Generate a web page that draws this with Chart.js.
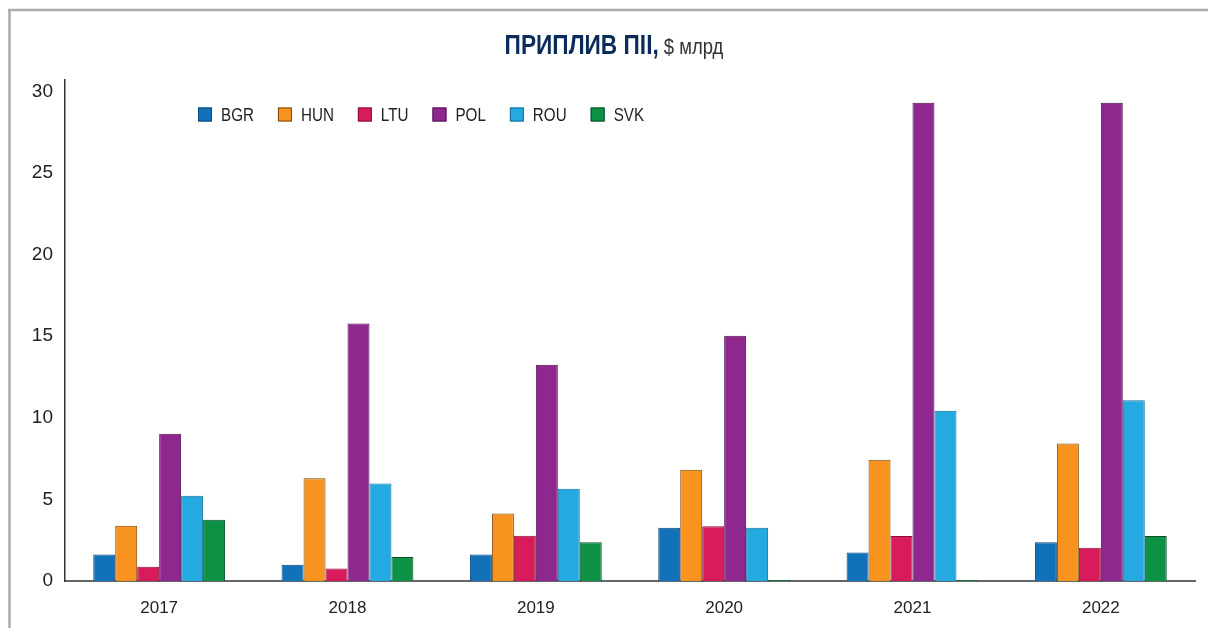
<!DOCTYPE html>
<html>
<head>
<meta charset="utf-8">
<script src="https://cdn.jsdelivr.net/npm/chart.js@4"></script>
<style>
    html, body { margin: 0; padding: 0; background: #fff; }
    #wrap { width: 1208px; height: 628px; position: relative; }
</style>
</head>
<body>
<div id="wrap"><canvas id="fdi_chart"></canvas></div>
<script>
// data, $ bn
const years = ['2017', '2018', '2019', '2020', '2021', '2022'];
const countries = ['BGR', 'HUN', 'LTU', 'POL', 'ROU', 'SVK'];
const bgr = [1.63, 1.0, 1.62, 3.27, 1.74, 2.37];
const hun = [3.39, 6.29, 4.13, 6.82, 7.43, 8.43];
const ltu = [0.88, 0.76, 2.78, 3.35, 2.76, 2.04];
const pol = [9.03, 15.78, 13.25, 15.03, 29.3, 29.3];
const rou = [5.23, 5.98, 5.66, 3.27, 10.43, 11.08];
const svk = [3.76, 1.47, 2.37, 0.06, 0.06, 2.76];
const yTicks = [0, 5, 10, 15, 20, 25, 30];
const titleBold = 'ПРИПЛИВ ПІІ,';
const titleRest = ' $ млрд';

const fills = ['#1172b9', '#f7931e', '#d81b5a', '#8e278e', '#24a9e1', '#0d9144'];
const edges = ['#0b4a7a', '#7a4a10', '#8a1038', '#4e1250', '#176f96', '#0a4f28'];
const series = [bgr, hun, ltu, pol, rou, svk];

const FONT = '"Liberation Sans", Arial, sans-serif';

// draw text squeezed horizontally, the original uses a condensed face
const narrowText = (ctx, text, x, y, squeeze) => {
    ctx.save();
    ctx.translate(x, y);
    ctx.scale(squeeze, 1);
    ctx.fillText(text, 0, 0);
    ctx.restore();
    return ctx.measureText(text).width * squeeze;
};

// grey frame, title and the legend inside the plot
const decorPlugin = {
    id: 'decor',
    beforeDraw(chart) {
        const ctx = chart.ctx;
        ctx.save();
        ctx.strokeStyle = '#aaaaaa';
        ctx.lineWidth = 2.5;
        ctx.beginPath();
        ctx.moveTo(8, 10);
        ctx.lineTo(chart.width, 10);
        ctx.moveTo(9.5, 9);
        ctx.lineTo(9.5, chart.height);
        ctx.stroke();
        ctx.restore();
    },
    afterDraw(chart) {
        const ctx = chart.ctx;
        ctx.save();
        // title
        ctx.textBaseline = 'alphabetic';
        ctx.font = 'bold 27px ' + FONT;
        const w1 = ctx.measureText(titleBold).width * 0.84;
        ctx.font = '22px ' + FONT;
        const w2 = ctx.measureText(titleRest).width * 0.84;
        let x = 614 - (w1 + w2) / 2;
        ctx.font = 'bold 27px ' + FONT;
        ctx.fillStyle = '#0b2c5a';
        narrowText(ctx, titleBold, x, 54, 0.84);
        ctx.font = '22px ' + FONT;
        ctx.fillStyle = '#333333';
        narrowText(ctx, titleRest, x + w1, 54, 0.84);

        // legend
        ctx.font = '19px ' + FONT;
        ctx.textBaseline = 'middle';
        x = 198;
        chart.data.datasets.forEach(ds => {
            ctx.fillStyle = ds.backgroundColor;
            ctx.fillRect(x, 107.5, 14, 14);
            ctx.strokeStyle = ds.borderColor;
            ctx.lineWidth = 1;
            ctx.strokeRect(x + 0.5, 108, 13, 13);
            x += 23;
            ctx.fillStyle = '#222222';
            x += narrowText(ctx, ds.label, x, 115.5, 0.8) + 24;
        });
        ctx.restore();
    }
};

const datasets = countries.map((c, i) => ({
    label: c,
    data: series[i],
    backgroundColor: fills[i],
    borderColor: edges[i],
    borderWidth: 1,
    categoryPercentage: 0.7,
    barPercentage: 1.0
}));

new Chart(document.getElementById('fdi_chart'), {
    type: 'bar',
    data: { labels: years, datasets: datasets },
    options: {
        responsive: true,
        maintainAspectRatio: false,
        animation: false,
        layout: { padding: { top: 80, right: 13, bottom: 0, left: 0 } },
        plugins: {
            legend: { display: false },
            title: { display: false },
            tooltip: { enabled: false }
        },
        scales: {
            x: {
                grid: { display: false, drawTicks: false },
                border: { display: true, color: '#666666', width: 2 },
                afterFit: axis => { axis.height = 47; },
                ticks: {
                    color: '#222222',
                    padding: 17,
                    font: { family: FONT, size: 17 }
                }
            },
            y: {
                min: 0,
                max: 30.7,
                grid: { display: false, drawTicks: false },
                border: { display: true, color: '#333333', width: 1.5 },
                afterBuildTicks: axis => {
                    axis.ticks = yTicks.map(v => ({ value: v }));
                },
                afterFit: axis => { axis.width = 65; },
                ticks: {
                    color: '#222222',
                    padding: 12,
                    font: { family: FONT, size: 19 }
                }
            }
        }
    },
    plugins: [decorPlugin]
});
</script>
</body>
</html>
